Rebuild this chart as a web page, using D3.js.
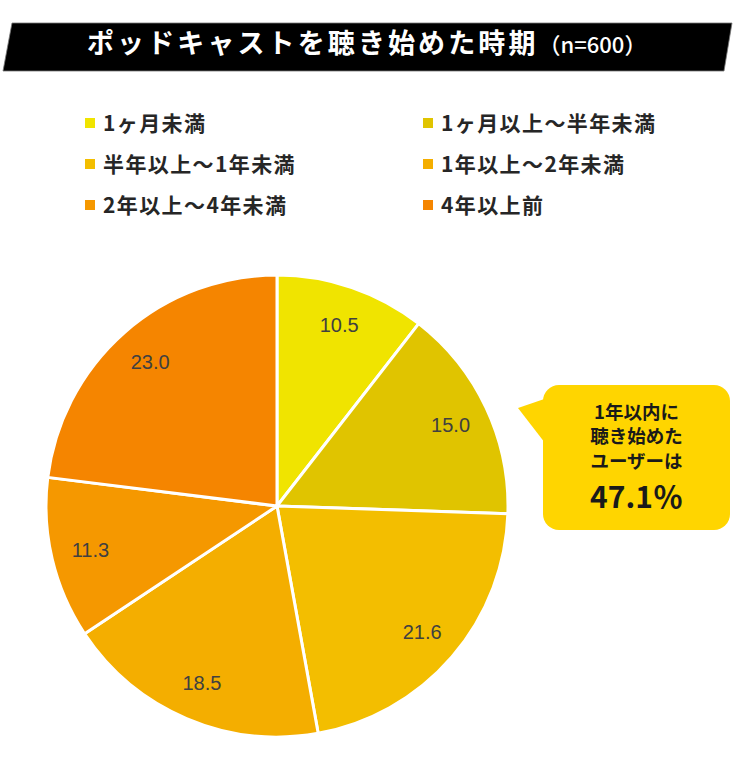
<!DOCTYPE html>
<html>
<head>
<meta charset="utf-8">
<script src="https://cdn.jsdelivr.net/npm/d3@7"></script>
<style>
  body { margin: 0; background: #fff; }
  svg { display: block; }
</style>
</head>
<body>
<svg id="chart" width="752" height="765"></svg>
<script>
const categories = ['1ヶ月未満', '1ヶ月以上～半年未満', '半年以上～1年未満', '1年以上～2年未満', '2年以上～4年未満', '4年以上前'];
const values = [10.5, 15.0, 21.6, 18.5, 11.3, 23.0];
const colors = ['#f0e400', '#e0c400', '#f3be00', '#f4ae00', '#f59800', '#f58500'];
const titleMain = 'ポッドキャストを聴き始めた時期';
const titleSub = '（n=600）';
const calloutLines = ['1年以内に', '聴き始めた', 'ユーザーは'];
const withinYear = 3; // first three categories are under one year

const jp = '"Noto Sans CJK JP", "Noto Sans", sans-serif';
const svg = d3.select('#chart');

// Title banner (slanted black band)
const band = [[12, 23], [732, 23], [724, 71], [3, 71]];
svg.append('path')
  .attr('d', d3.line()(band) + 'Z')
  .attr('fill', '#000')
  .attr('stroke', '#777')
  .attr('stroke-width', 0.8);

const title = svg.append('text')
  .attr('x', 87)
  .attr('y', 47)
  .attr('dy', '0.36em')
  .attr('fill', '#fff')
  .attr('font-family', jp)
  .attr('font-weight', 700);
title.append('tspan')
  .attr('font-size', 27)
  .attr('letter-spacing', 3.1)
  .text(titleMain);
title.append('tspan')
  .attr('font-size', 22)
  .attr('font-weight', 500)
  .text(titleSub);

// Legend: two columns, three rows
const legendX = d3.scaleOrdinal().domain([0, 1]).range([85, 423]);
const legendY = d3.scalePoint().domain([0, 1, 2]).range([123, 205]);

const legend = svg.append('g')
  .selectAll('g')
  .data(categories)
  .join('g')
  .attr('transform', (d, i) => `translate(${legendX(i % 2)},${legendY(Math.floor(i / 2))})`);

legend.append('rect')
  .attr('x', 0)
  .attr('y', -5)
  .attr('width', 10)
  .attr('height', 10)
  .attr('fill', (d, i) => colors[i]);

legend.append('text')
  .attr('x', 18)
  .attr('dy', '0.36em')
  .attr('font-family', jp)
  .attr('font-weight', 700)
  .attr('font-size', 21)
  .attr('letter-spacing', 1.4)
  .attr('fill', '#262626')
  .text(d => d);

// Pie
const cx = 277, cy = 506, radius = 231;
const pie = d3.pie().sort(null).value(d => d);
const arc = d3.arc().innerRadius(0).outerRadius(radius);
const labelArc = d3.arc().innerRadius(radius * 0.83).outerRadius(radius * 0.83);

const pieGroup = svg.append('g').attr('transform', `translate(${cx},${cy})`);
const slices = pie(values);

pieGroup.selectAll('path')
  .data(slices)
  .join('path')
  .attr('d', arc)
  .attr('fill', (d, i) => colors[i])
  .attr('stroke', '#fff')
  .attr('stroke-width', 3)
  .attr('stroke-linejoin', 'round');

pieGroup.selectAll('text')
  .data(slices)
  .join('text')
  .attr('transform', d => `translate(${labelArc.centroid(d)})`)
  .attr('text-anchor', 'middle')
  .attr('dy', '0.36em')
  .attr('font-family', '"Liberation Sans", Arial, sans-serif')
  .attr('font-size', 20)
  .attr('fill', '#404040')
  .text(d => d3.format('.1f')(d.data));

// Callout bubble
const box = { x: 543, y: 385, w: 187, h: 145, r: 16 };
const bubble = svg.append('g');
bubble.append('path')
  .attr('d', d3.line()([[518, 408], [556, 395], [556, 445], [545, 443]]) + 'Z')
  .attr('fill', '#ffd500');
bubble.append('rect')
  .attr('x', box.x)
  .attr('y', box.y)
  .attr('width', box.w)
  .attr('height', box.h)
  .attr('rx', box.r)
  .attr('fill', '#ffd500');

const bx = box.x + box.w / 2;
bubble.selectAll('text.line')
  .data(calloutLines)
  .join('text')
  .attr('class', 'line')
  .attr('x', bx)
  .attr('y', (d, i) => 412 + i * 24.5)
  .attr('dy', '0.36em')
  .attr('text-anchor', 'middle')
  .attr('font-family', jp)
  .attr('font-weight', 700)
  .attr('font-size', 18.5)
  .attr('fill', '#1a1a1a')
  .text(d => d);

const share = d3.sum(values.slice(0, withinYear));
bubble.append('text')
  .attr('x', bx)
  .attr('y', 497)
  .attr('dy', '0.36em')
  .attr('text-anchor', 'middle')
  .attr('font-family', jp)
  .attr('font-weight', 700)
  .attr('font-size', 30)
  .attr('fill', '#1a1a1a')
  .text(d3.format('.1f')(share) + '％');
</script>
</body>
</html>
